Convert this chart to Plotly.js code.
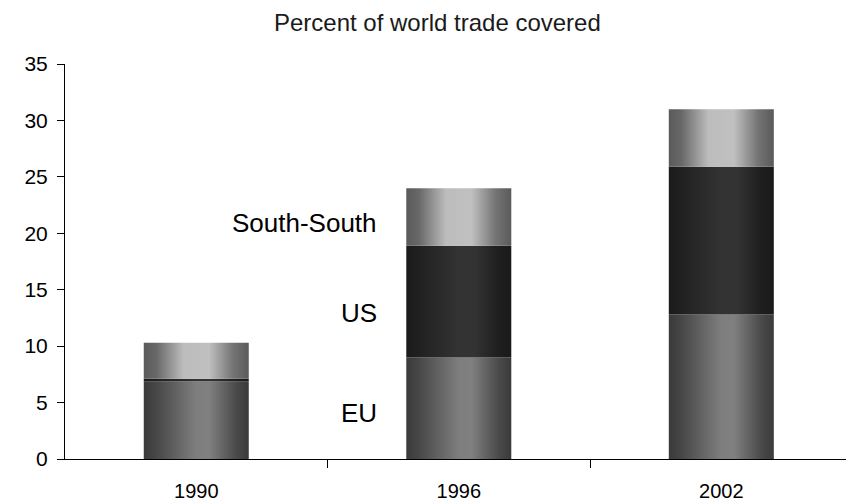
<!DOCTYPE html>
<html>
<head>
<meta charset="utf-8">
<script src="https://cdn.plot.ly/plotly-3.0.1.min.js"></script>
<style>html,body{margin:0;padding:0;background:#fff;}#chart{width:846px;height:504px;}</style>
</head>
<body>
<div id="chart"></div>
<script>
// ---- data ----
const years = ['1990', '1996', '2002'];
const seriesNames = ['EU', 'US', 'South-South'];
const euValues = [6.9, 9.0, 12.8];
const usValues = [0.2, 9.9, 13.1];
const southSouthValues = [3.2, 5.1, 5.1];
const yTickValues = [0, 5, 10, 15, 20, 25, 30, 35];

// ---- styles ----
const barWidth = 0.4;
const gradients = {
  'EU': [[0, '#3a3a3a'], [0.12, '#474747'], [0.5, '#7e7e7e'], [0.62, '#808080'], [0.88, '#4a4a4a'], [1, '#3a3a3a']],
  'US': [[0, '#1a1a1a'], [0.15, '#222222'], [0.5, '#333333'], [0.65, '#333333'], [0.88, '#1e1e1e'], [1, '#1a1a1a']],
  'South-South': [[0, '#5a5a5a'], [0.12, '#686868'], [0.38, '#bdbdbd'], [0.62, '#c0c0c0'], [0.85, '#747474'], [1, '#5a5a5a']]
};
const seriesValues = [euValues, usValues, southSouthValues];

const traces = [];
const cum = years.map(() => 0);
seriesValues.forEach((vals, s) => {
  const name = seriesNames[s];
  years.forEach((yr, i) => {
    const base = cum[i];
    const top = base + vals[i];
    cum[i] = top;
    const x0 = i - barWidth / 2, x1 = i + barWidth / 2;
    traces.push({
      type: 'scatter',
      mode: 'lines',
      name: name + ' ' + yr,
      x: [x0, x1, x1, x0, x0],
      y: [base, base, top, top, base],
      fill: 'toself',
      fillcolor: gradients[name][2][1],
      fillgradient: {type: 'horizontal', colorscale: gradients[name]},
      line: {width: 0, color: 'rgba(0,0,0,0)'},
      hoverinfo: 'skip',
      showlegend: false
    });
  });
});

const font = 'Liberation Sans, Arial, sans-serif';
const layout = {
  width: 846,
  height: 504,
  margin: {l: 65, r: 0, t: 64, b: 45},
  paper_bgcolor: '#ffffff',
  plot_bgcolor: '#ffffff',
  font: {family: font, color: '#000000'},
  title: {
    text: 'Percent of world trade covered',
    font: {family: font, size: 24, color: '#1a1a1a'},
    x: 0.517, xref: 'container', xanchor: 'center',
    y: 0.956, yref: 'container', yanchor: 'middle'
  },
  xaxis: {
    type: 'linear',
    range: [-0.5, 2.475],
    tickmode: 'array',
    tickvals: [0, 1, 2],
    ticktext: years,
    ticks: 'outside',
    ticklen: 8,
    tickcolor: 'rgba(0,0,0,0)',
    ticklabelstandoff: 6,
    tickfont: {family: font, size: 20, color: '#000000'},
    minor: {tickmode: 'array', tickvals: [0.5, 1.5], ticks: 'outside', ticklen: 8, tickwidth: 1, tickcolor: '#000000', showgrid: false},
    showline: true,
    linecolor: '#000000',
    linewidth: 1,
    showgrid: false,
    zeroline: false,
    fixedrange: true
  },
  yaxis: {
    range: [0, 35],
    tickmode: 'array',
    tickvals: yTickValues,
    ticks: 'outside',
    ticklen: 7,
    tickcolor: '#000000',
    tickfont: {family: font, size: 21, color: '#000000'},
    ticklabelstandoff: 5,
    showline: true,
    linecolor: '#000000',
    linewidth: 1,
    showgrid: false,
    zeroline: false,
    fixedrange: true
  },
  annotations: [
    {text: seriesNames[2], x: 0.697, y: 20.9, xref: 'x', yref: 'y', xanchor: 'right', yanchor: 'middle', showarrow: false, font: {family: font, size: 26, color: '#000000'}},
    {text: seriesNames[1], x: 0.697, y: 12.9, xref: 'x', yref: 'y', xanchor: 'right', yanchor: 'middle', showarrow: false, font: {family: font, size: 26, color: '#000000'}},
    {text: seriesNames[0], x: 0.697, y: 4.1, xref: 'x', yref: 'y', xanchor: 'right', yanchor: 'middle', showarrow: false, font: {family: font, size: 26, color: '#000000'}}
  ],
  showlegend: false
};

Plotly.newPlot('chart', traces, layout, {displayModeBar: false, staticPlot: true});
</script>
</body>
</html>
